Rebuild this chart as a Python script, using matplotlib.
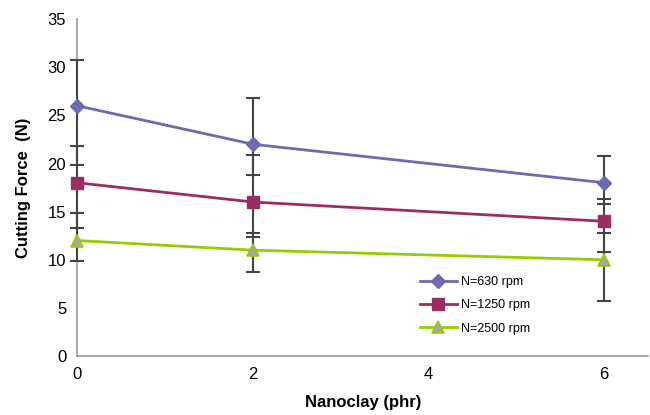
import numpy as np
import matplotlib.pyplot as plt

plt.rcParams['font.family'] = ['Liberation Sans', 'DejaVu Sans']

# nanoclay content (phr)
nanoclay = [0, 2, 6]

# cutting force (N) per spindle speed
force_630 = [26, 22, 18]
force_1250 = [18, 16, 14]
force_2500 = [12, 11, 10]

# error bar ends (lower, upper)
low_630 = [19.8, 18.8, 15.8]
up_630 = [30.8, 26.8, 20.8]
low_1250 = [13.3, 12.4, 10.8]
up_1250 = [21.8, 20.9, 16.3]
low_2500 = [9.9, 8.7, 5.7]
up_2500 = [14.85, 12.8, 12.8]

labels = ['N=630 rpm', 'N=1250 rpm', 'N=2500 rpm']

fig = plt.figure(figsize=(6.5, 4.15), dpi=100)
ax = fig.add_axes([0.119, 0.142, 0.878, 0.812])

series = [
    (force_630, low_630, up_630, dict(color='#6B6BAE', marker='D', markersize=7,
                                      markerfacecolor='#6B6BAE', markeredgecolor='#6B6BAE')),
    (force_1250, low_1250, up_1250, dict(color='#9B2D63', marker='s', markersize=8,
                                         markerfacecolor='#9B2D63', markeredgecolor='#9B2D63')),
    (force_2500, low_2500, up_2500, dict(color='#99CC00', marker='^', markersize=9,
                                         markerfacecolor='#A6A6A6', markeredgecolor='#99CC00',
                                         markeredgewidth=1.2)),
]

for (y, lo, up, style), lab in zip(series, labels):
    y = np.array(y)
    yerr = [y - np.array(lo), np.array(up) - y]
    eb = ax.errorbar(nanoclay, y, yerr=yerr, fmt='none', ecolor='#444444',
                     elinewidth=1.5, capsize=5, capthick=1.5, zorder=4)
    for art in eb.lines[1] + eb.lines[2]:
        art.set_clip_on(False)
    ax.plot(nanoclay, y, linewidth=2, label=lab, zorder=5, clip_on=False, **style)

ax.set_xlim(0, 6.5)
ax.set_ylim(0, 35)
ax.set_xticks([0, 2, 4, 6])
ax.set_yticks(range(0, 36, 5))
ax.tick_params(length=0, labelsize=12, pad=8)

for s in ['top', 'right']:
    ax.spines[s].set_visible(False)
for s in ['left', 'bottom']:
    ax.spines[s].set_color('#999999')
    ax.spines[s].set_linewidth(1.2)

ax.set_xlabel('Nanoclay (phr)', fontsize=12, fontweight='bold', labelpad=9)
ax.set_ylabel('Cutting Force  (N)', fontsize=12, fontweight='bold', labelpad=12)

ax.legend(loc='lower left', bbox_to_anchor=(0.58, 0.03), frameon=False,
          fontsize=9, handlelength=3, labelspacing=0.9, handletextpad=0.3)

fig.savefig('out.png', dpi=100)
